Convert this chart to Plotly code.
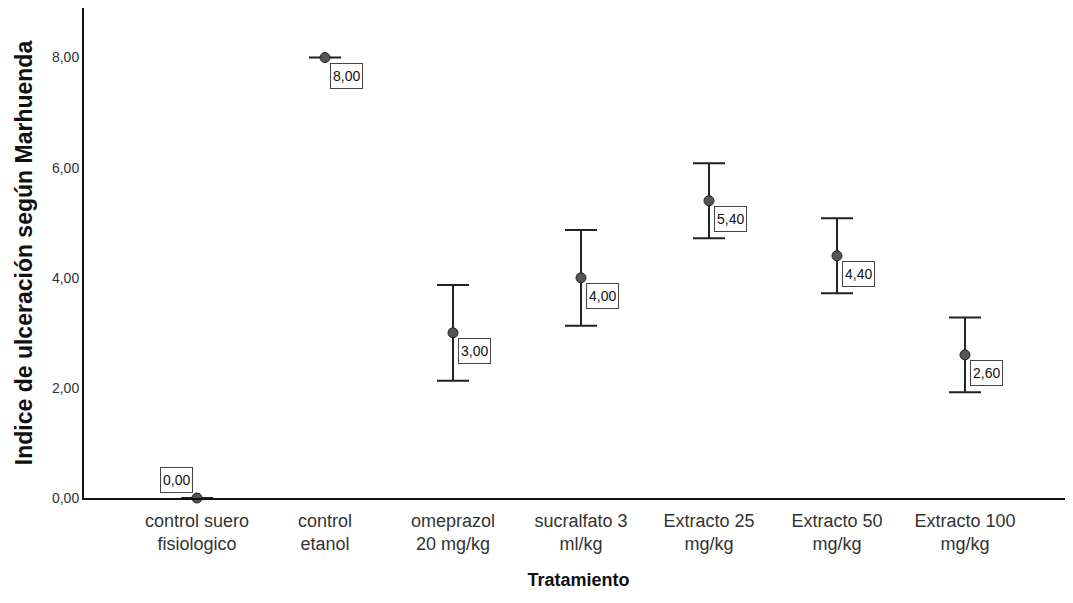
import plotly.graph_objects as go

categories = ["control suero<br>fisiologico", "control<br>etanol", "omeprazol<br>20 mg/kg",
              "sucralfato 3<br>ml/kg", "Extracto 25<br>mg/kg", "Extracto 50<br>mg/kg",
              "Extracto 100<br>mg/kg"]
means = [0.00, 8.00, 3.00, 4.00, 5.40, 4.40, 2.60]
errors = [0.00, 0.00, 0.87, 0.87, 0.68, 0.68, 0.68]
mean_labels = ["0,00", "8,00", "3,00", "4,00", "5,40", "4,40", "2,60"]
y_tickvals = [0, 2, 4, 6, 8]
y_ticktext = ["0,00", "2,00", "4,00", "6,00", "8,00"]

xpos = list(range(len(categories)))

fig = go.Figure()
fig.add_trace(go.Scatter(
    x=xpos, y=means, mode="markers",
    marker=dict(size=10, color="#555555", line=dict(color="#222222", width=1)),
    error_y=dict(type="data", array=errors, visible=True, color="#222222",
                 thickness=2, width=16),
    cliponaxis=False, showlegend=False,
))

for i, (m, lab) in enumerate(zip(means, mean_labels)):
    if m == 0:
        ann = dict(xanchor="right", yanchor="bottom", xshift=-4, yshift=5)
    else:
        ann = dict(xanchor="left", yanchor="top", xshift=5, yshift=-5)
    fig.add_annotation(x=xpos[i], y=m, text=lab, showarrow=False,
                       font=dict(family="Liberation Sans, Arial", size=14, color="#111111"),
                       bgcolor="white", bordercolor="#444444", borderwidth=1, borderpad=2,
                       height=20, **ann)

fig.update_layout(
    width=1065, height=595,
    margin=dict(l=76, r=0, t=0, b=105),
    paper_bgcolor="white", plot_bgcolor="white",
    font=dict(family="Liberation Sans, Arial", color="#222222"),
    xaxis=dict(
        range=[-0.883, 6.844], tickvals=xpos, ticktext=categories,
        showgrid=False, zeroline=False, showline=True, linecolor="#111111", linewidth=2,
        ticks="", tickfont=dict(size=18, color="#333333"), ticklabelstandoff=5,
        title=dict(text="<b>Tratamiento</b>", font=dict(size=18, color="#111111"), standoff=20),
    ),
    yaxis=dict(
        range=[0, 8.9], tickvals=y_tickvals, ticktext=y_ticktext,
        showgrid=False, zeroline=False, showline=True, linecolor="#111111", linewidth=2,
        ticks="", tickfont=dict(size=14, color="#333333"),
        title=dict(text="<b>Indice de ulceración según Marhuenda</b>",
                   font=dict(size=23, color="#111111"), standoff=13),
    ),
)

fig.write_html("out.html")
